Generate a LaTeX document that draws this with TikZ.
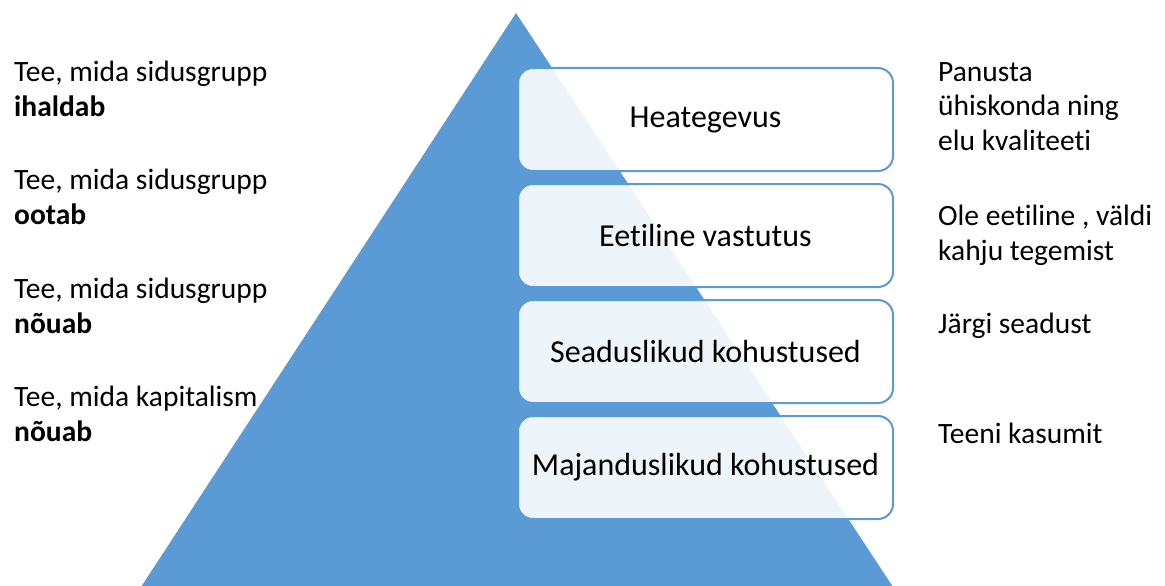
\documentclass[tikz,border=0pt]{standalone}
\usepackage{fontspec}
\setmainfont[Ligatures=NoCommon]{Carlito}
\definecolor{pyr}{HTML}{5B9BD5}
\begin{document}
\begin{tikzpicture}[x=1pt,y=-1pt,
  side/.style={anchor=base west,align=left,inner sep=0pt,font=\fontsize{29.5}{34.5}\selectfont},
  level/.style={rounded corners=15pt,fill=white,fill opacity=0.9,draw=pyr,draw opacity=1,line width=2pt,text opacity=1,
     minimum width=375pt,minimum height=103pt,font=\fontsize{32}{38}\selectfont,inner sep=0pt}]
\useasboundingbox (0,0) rectangle (1165,586);
\clip (0,0) rectangle (1165,586);
\fill[pyr] (516,13) -- (141,587) -- (893,587) -- cycle;
\node[level] (l1) at (705.5,119.5) {Heategevus};
\node[level] (l2) at (705.5,235.5) {Eetiline vastutus};
\node[level] (l3) at (705.5,351.5) {Seaduslikud kohustused};
\node[level] (l4) at (705.5,467.5) {Majanduslikud kohustused};
\node[side] (a1) at (14,116) {Tee, mida sidusgrupp\\\textbf{ihaldab}};
\node[side] (a2) at (14,224) {Tee, mida sidusgrupp\\\textbf{ootab}};
\node[side] (a3) at (14,333) {Tee, mida sidusgrupp\\\textbf{nõuab}};
\node[side] (a4) at (14,441) {Tee, mida kapitalism\\\textbf{nõuab}};
\node[side] (b1) at (938,150) {Panusta\\ühiskonda ning\\elu kvaliteeti};
\node[side] (b2) at (938,260) {Ole eetiline , väldi\\kahju tegemist};
\node[side] (b3) at (938,333) {Järgi seadust};
\node[side] (b4) at (938,443) {Teeni kasumit};
\end{tikzpicture}
\end{document}
